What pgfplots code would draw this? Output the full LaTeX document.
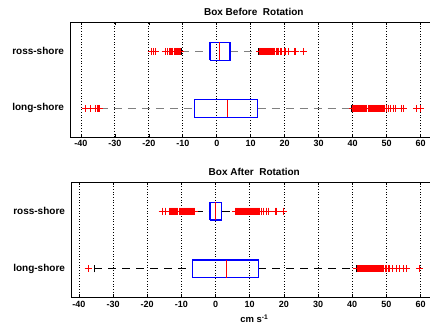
\documentclass[border=0pt]{standalone}
\usepackage{pgfplots}
\pgfplotsset{compat=1.18}
\usepackage{fontspec}
\setmainfont{Liberation Sans}

\pgfplotsset{
  mybox/.style={
    scale only axis,
    xmax=65,
    ymin=0.5, ymax=2.5,
    xtick={-40,-30,-20,-10,0,10,20,30,40,50,60},
    ytick={1,2},
    yticklabels={long-shore,ross-shore},
    xmajorgrids,
    grid style={black, line width=0.7pt, dash pattern=on 0.7pt off 2pt},
    axis line style={black, line width=0.8pt},
    tick align=inside,
    major tick length=2.5pt,
    xtick style={black, line width=0.6pt},
    ytick style={draw=none},
    /pgf/number format/assume math mode=true,
    xticklabel style={font=\fontsize{9}{10}\selectfont\bfseries},
    yticklabel style={font=\fontsize{10}{11}\selectfont\bfseries, xshift=-2.5pt},
    title style={font=\fontsize{10}{11}\selectfont\bfseries, yshift=-2.5pt},
    label style={font=\fontsize{9.5}{10}\selectfont\bfseries},
  },
  boxln/.style={blue, line width=1.2pt, mark=none},
  medln/.style={red, line width=1.2pt, mark=none},
  whtop/.style={gray, line width=0.9pt, dash pattern=on 8pt off 6pt, mark=none},
  whbot/.style={black, line width=0.9pt, dash pattern=on 8pt off 6pt, mark=none},
  capln/.style={black, line width=0.9pt, mark=none},
  outl/.style={only marks, mark=+, red, mark size=3.5pt, mark options={line width=0.9pt}},
}

\begin{document}
\begin{tikzpicture}
% ---------------- Top: before rotation ----------------
\begin{axis}[mybox,
  at={(70pt,192pt)}, anchor=south west,
  width=367.6pt, height=114.3pt,
  xmin=-43.2,
  title={Box Before\ \ Rotation},
]
% along-shore (y=1): whiskers -34.4 / 39.7, quartiles -6.6 / 12.0, median 3.2
\addplot[whtop] coordinates {(-34.4,1) (-6.6,1)};
\addplot[whtop] coordinates {(12.0,1) (39.7,1)};
\addplot[capln] coordinates {(-34.4,0.94) (-34.4,1.06)};
\addplot[capln] coordinates {(39.7,0.94) (39.7,1.06)};
\addplot[boxln] coordinates {(-6.6,0.845) (12.0,0.845) (12.0,1.155) (-6.6,1.155) (-6.6,0.845)};
\addplot[medln] coordinates {(3.2,0.845) (3.2,1.155)};
% cross-shore (y=2): whiskers -10.4 / 12.2, quartiles -2.0 / 3.9, median 0.7
\addplot[whtop] coordinates {(-10.4,2) (-2.0,2)};
\addplot[whtop] coordinates {(3.9,2) (12.2,2)};
\addplot[capln] coordinates {(-10.4,1.94) (-10.4,2.06)};
\addplot[capln] coordinates {(12.2,1.94) (12.2,2.06)};
\addplot[boxln] coordinates {(-2.0,1.845) (3.9,1.845) (3.9,2.155) (-2.0,2.155) (-2.0,1.845)};
\addplot[medln] coordinates {(0.7,1.845) (0.7,2.155)};
% outliers cross-shore
\addplot[outl] coordinates {
(-19.3,2) (-18.6,2) (-18.0,2) (-15.2,2) (-14.5,2) (-14.0,2) (-13.6,2) (-13.2,2)
(-12.9,2) (-12.6,2) (-12.3,2) (-12.0,2) (-11.7,2) (-11.4,2) (-11.1,2) (-10.8,2)
(12.6,2) (12.9,2) (13.2,2) (13.5,2) (13.8,2) (14.1,2) (14.4,2) (14.7,2) (15.0,2)
(15.3,2) (15.6,2) (15.9,2) (16.2,2) (16.5,2) (16.8,2) (17.1,2) (17.5,2) (17.9,2)
(18.3,2) (18.7,2) (19.1,2) (19.8,2) (20.3,2) (21.0,2) (22.8,2) (23.3,2) (25.4,2)
};
% outliers along-shore
\addplot[outl] coordinates {
(-38.6,1) (-37.2,1) (-35.6,1) (-35.2,1) (-34.9,1) (-34.6,1)
(40.0,1) (40.3,1) (40.6,1) (40.9,1) (41.2,1) (41.5,1) (41.8,1) (42.1,1) (42.4,1)
(42.7,1) (43.0,1) (43.3,1) (43.6,1) (43.9,1) (44.2,1) (44.5,1) (44.8,1) (45.1,1)
(45.4,1) (45.7,1) (46.0,1) (46.3,1) (46.6,1) (46.9,1) (47.2,1) (47.5,1) (47.8,1)
(48.1,1) (48.4,1) (48.7,1) (49.0,1) (49.4,1) (49.8,1) (50.4,1) (51.0,1) (52.0,1)
(52.5,1) (54.4,1) (54.9,1) (58.8,1) (60.0,1)
};
\end{axis}

% ---------------- Bottom: after rotation ----------------
\begin{axis}[mybox,
  at={(71pt,31.3pt)}, anchor=south west,
  width=366.6pt, height=115.4pt,
  xmin=-42.3,
  title={Box After\ \ Rotation},
  xlabel={cm s\textsuperscript{-1}},
]
% along-shore (y=1): whiskers -35.5 / 41.3, quartiles -6.8 / 12.5, median 3.2
\addplot[whbot] coordinates {(-35.5,1) (-6.8,1)};
\addplot[whbot] coordinates {(12.5,1) (41.3,1)};
\addplot[capln] coordinates {(-35.5,0.94) (-35.5,1.06)};
\addplot[capln] coordinates {(41.3,0.94) (41.3,1.06)};
\addplot[boxln] coordinates {(-6.8,0.845) (12.5,0.845) (12.5,1.155) (-6.8,1.155) (-6.8,0.845)};
\addplot[medln] coordinates {(3.2,0.845) (3.2,1.155)};
% cross-shore (y=2): whiskers -6.1 / 5.7, quartiles -1.6 / 1.8, median 0.1
\addplot[whbot] coordinates {(-6.1,2) (-1.6,2)};
\addplot[whbot] coordinates {(1.8,2) (5.7,2)};
\addplot[capln] coordinates {(-6.1,1.94) (-6.1,2.06)};
\addplot[capln] coordinates {(5.7,1.94) (5.7,2.06)};
\addplot[boxln] coordinates {(-1.6,1.845) (1.8,1.845) (1.8,2.155) (-1.6,2.155) (-1.6,1.845)};
\addplot[medln] coordinates {(0.1,1.845) (0.1,2.155)};
% outliers cross-shore
\addplot[outl] coordinates {
(-15.6,2) (-14.8,2) (-13.4,2) (-13.1,2) (-12.8,2) (-12.5,2) (-12.2,2) (-11.9,2)
(-11.6,2) (-11.3,2) (-11.0,2) (-10.7,2) (-10.4,2) (-10.1,2) (-9.8,2) (-9.5,2)
(-9.2,2) (-8.9,2) (-8.6,2) (-8.3,2) (-8.0,2) (-7.7,2) (-7.4,2) (-7.1,2) (-6.8,2)
(-6.5,2) (-6.2,2)
(5.8,2) (6.1,2) (6.4,2) (6.7,2) (7.0,2) (7.3,2) (7.6,2) (7.9,2) (8.2,2) (8.5,2)
(8.8,2) (9.1,2) (9.4,2) (9.7,2) (10.0,2) (10.3,2) (10.6,2) (10.9,2) (11.2,2)
(11.5,2) (11.8,2) (12.1,2) (12.4,2) (12.7,2) (13.0,2) (13.5,2) (13.9,2) (14.9,2)
(15.4,2) (17.4,2) (17.9,2) (19.8,2)
};
% outliers along-shore
\addplot[outl] coordinates {
(-37.3,1)
(41.4,1) (41.7,1) (42.0,1) (42.3,1) (42.6,1) (42.9,1) (43.2,1) (43.5,1) (43.8,1)
(44.1,1) (44.4,1) (44.7,1) (45.0,1) (45.3,1) (45.6,1) (45.9,1) (46.2,1) (46.5,1)
(46.8,1) (47.1,1) (47.4,1) (47.7,1) (48.0,1) (48.3,1) (48.6,1) (48.9,1) (49.2,1)
(49.6,1) (50.0,1) (50.5,1) (50.9,1) (51.9,1) (53.0,1) (53.9,1) (54.9,1) (55.9,1)
(59.8,1)
};
\end{axis}

\pgfresetboundingbox
\path[use as bounding box] (0pt,0pt) rectangle (430pt,329pt);
\end{tikzpicture}
\end{document}
